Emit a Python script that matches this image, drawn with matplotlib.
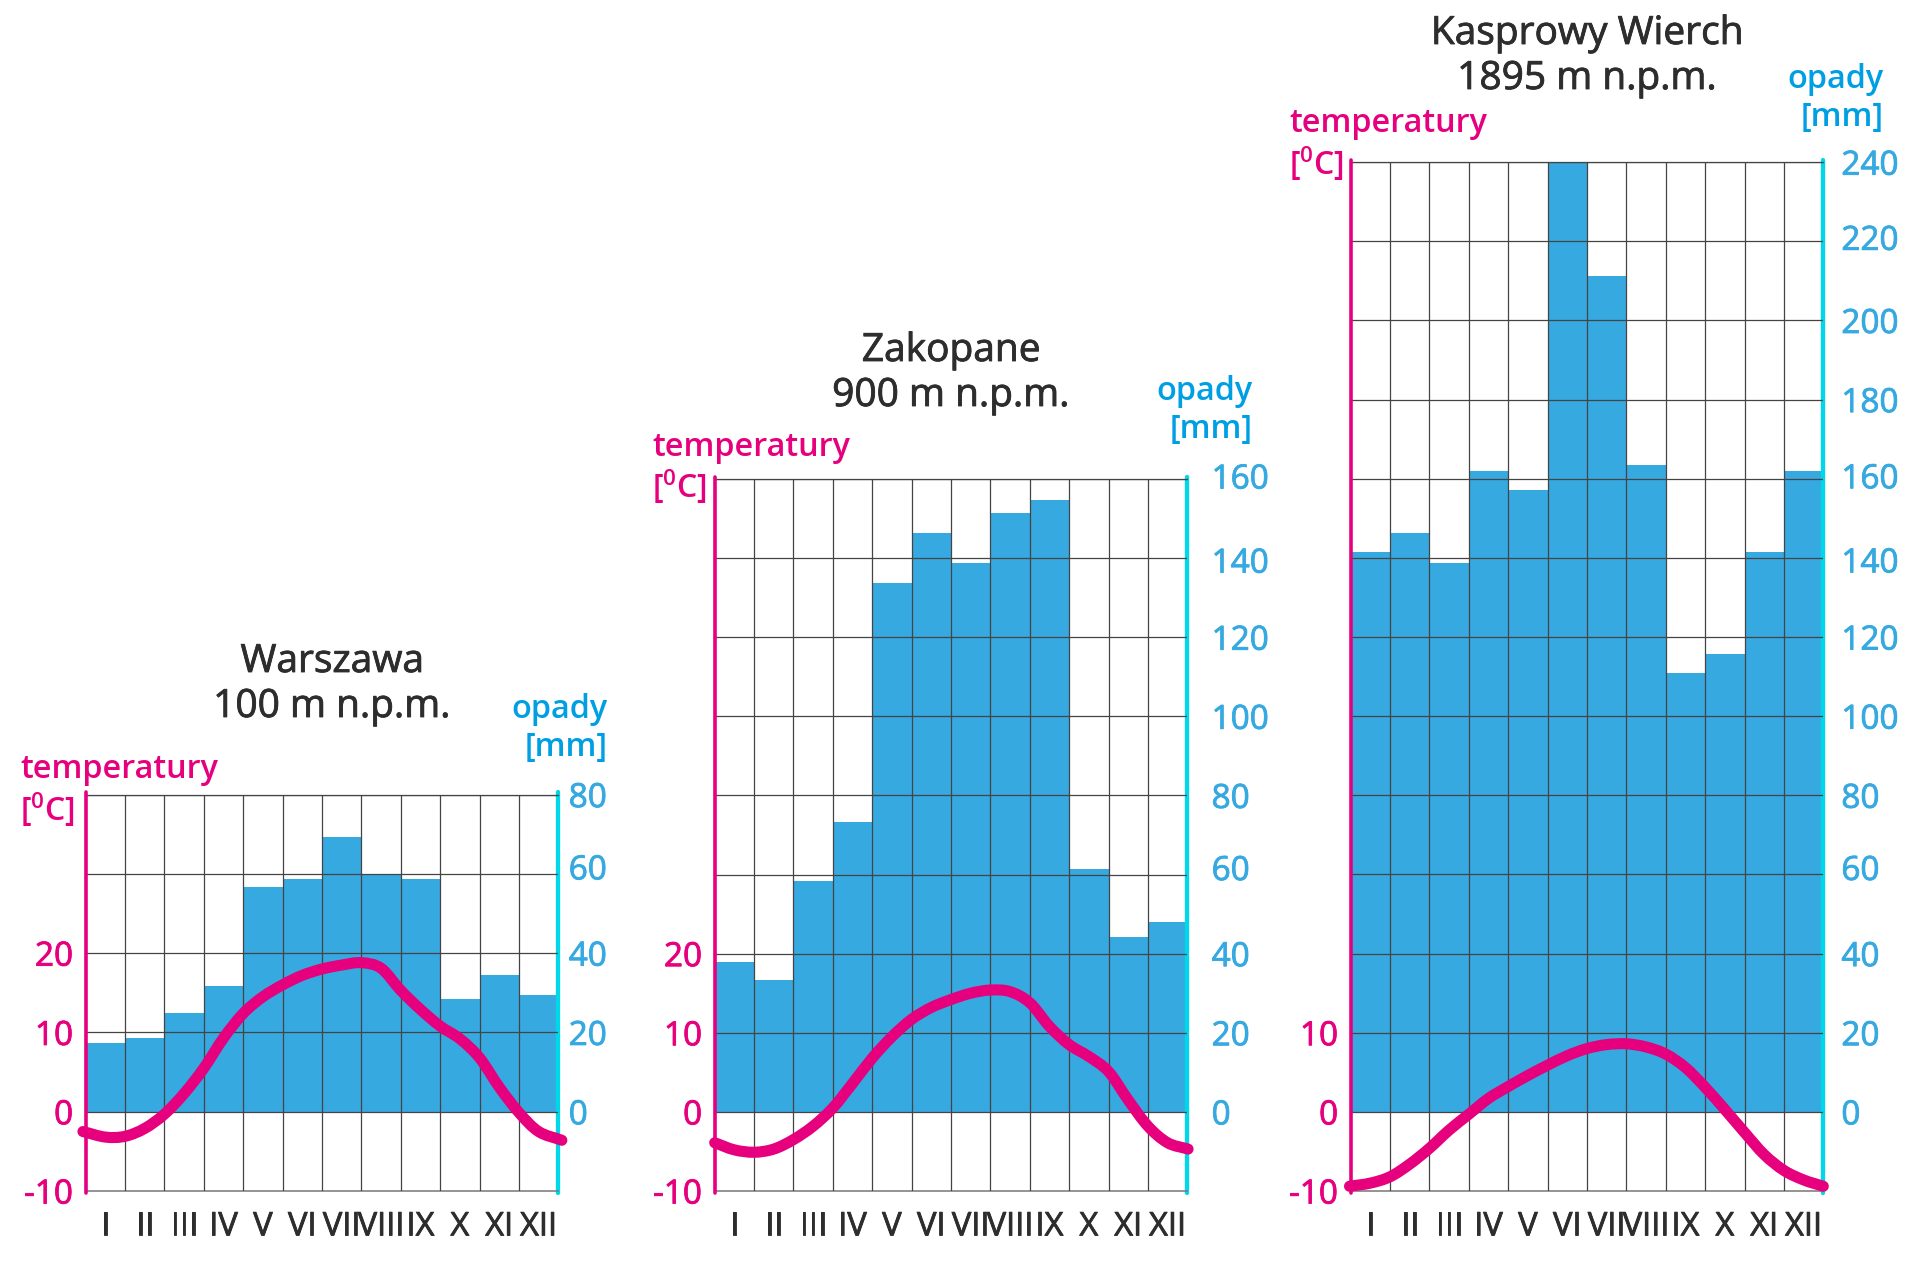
import matplotlib
matplotlib.use('Agg')
import matplotlib.pyplot as plt
import matplotlib.patheffects as pe
import matplotlib.transforms as mtrans
import numpy as np
from matplotlib.path import Path
from matplotlib.patches import PathPatch

plt.rcParams['font.family'] = ['Open Sans', 'DejaVu Sans']
plt.rcParams['mathtext.default'] = 'regular'

months = ['I', 'II', 'III', 'IV', 'V', 'VI', 'VII', 'VIII', 'IX', 'X', 'XI', 'XII']
names = ['Warszawa', 'Zakopane', 'Kasprowy Wierch']
heights = ['100 m n.p.m.', '900 m n.p.m.', '1895 m n.p.m.']

# opady [mm]
rain_waw = [17.4, 18.7, 24.8, 31.7, 56.8, 58.8, 69.3, 60, 58.8, 28.4, 34.6, 29.4]
rain_zak = [38, 33.4, 58.4, 73.2, 133.8, 146.4, 138.7, 151.4, 154.8, 61.5, 44.2, 47.9]
rain_kas = [141.5, 146.4, 138.7, 161.9, 157.2, 240, 211.3, 163.4, 110.9, 115.8, 141.5, 161.9]

# temperatura odczytana co pol miesiaca
temp_x = np.arange(25) / 2
temp_waw = [-2.5, -3.2, -3.1, -2.1, -0.3, 2.3, 5.5, 9.3, 12.4, 14.5, 16, 17.2, 18,
            18.5, 18.8, 18.1, 15.3, 12.9, 10.8, 9.2, 6.8, 3.1, -0.1, -2.5, -3.6]
temp_zak = [-3.9, -4.8, -5.1, -4.7, -3.5, -1.8, 0.5, 3.6, 6.8, 9.5, 11.7, 13.2, 14.2,
            15, 15.4, 15.2, 13.8, 10.8, 8.5, 7, 5.1, 1.5, -1.8, -3.9, -4.7]
temp_kas = [-9.4, -9, -8.2, -6.6, -4.6, -2.3, -0.3, 1.7, 3.2, 4.6, 5.9, 7.1, 8,
            8.5, 8.6, 8.2, 7.3, 5.6, 3.1, 0.3, -2.6, -5.4, -7.4, -8.6, -9.4]

rains = [rain_waw, rain_zak, rain_kas]
temps = [temp_waw, temp_zak, temp_kas]
tops = [80, 160, 240]
temp_ticks = [[-10, 0, 10, 20], [-10, 0, 10, 20], [-10, 0, 10]]

PINK = '#e6007e'
BLUE = '#009fe3'
BAR = '#36a9e1'
CYAN = '#00d7e8'
DARK = '#2d2d2d'
GRID = '#444444'
W, H = 1920, 1280

# piksele: lewa os, gora wykresu, tytul, podpisy
lefts = [85.7, 714.7, 1350.7]
ytops = [794.6, 479.0, 162.2]
ybottom = 1191
width = 472.6
title_x = [332, 951, 1587]
title_y = [(662, 707), (351, 396), (34, 79)]
temp_lab_x = [20, 652, 1289]
temp_lab_y = [(770, 810), (448, 487), (124, 164)]
rain_lab_x = [608, 1253, 1884]
rain_lab_y = [(709, 747), (392, 430), (80, 118)]
right_pad = [7.5, 17.5, 13]
# koncowki krzywej wychodza troche poza osie (w miesiacach)
curve_start = [-0.07, 0, -0.03]
curve_end = [12.09, 12.02, 12]
# w oryginale niektore liczby nie leza dokladnie na linii (piksele w gore)
label_shift = {60: 7, 220: 4, 160: 3, 140: -2}

medium = lambda c: [pe.withStroke(linewidth=0.6, foreground=c)]


def ftext(x, y, s, **kw):
    fig.text(x / W, 1 - y / H, s, va='center', **kw)


def smooth_curve(x, y):
    # gladka krzywa przez odczytane punkty (beziery)
    pts = np.column_stack([x, y])
    d = np.gradient(pts, axis=0) / 3
    verts = [pts[0]]
    codes = [Path.MOVETO]
    for k in range(len(pts) - 1):
        verts += [pts[k] + d[k], pts[k + 1] - d[k + 1], pts[k + 1]]
        codes += [Path.CURVE4] * 3
    return Path(verts, codes)


fig = plt.figure(figsize=(19.2, 12.8), dpi=100)

for i in range(3):
    rect = [lefts[i] / W, 1 - ybottom / H, width / W, (ybottom - ytops[i]) / H]
    ax = fig.add_axes(rect)
    top = tops[i]
    ax.set_xlim(0, 12)
    ax.set_ylim(-20, top)
    ax.bar(np.arange(12) + 0.5, rains[i], width=1, color=BAR, zorder=1)

    ax.set_xticks(np.arange(12) + 0.5)
    ax.set_xticklabels(months, fontsize=23.5, color=DARK, path_effects=medium(DARK))
    ax.set_xticks(np.arange(1, 12), minor=True)
    rain_ticks = np.arange(0, top + 1, 20)
    ax.set_yticks(rain_ticks)
    ax.set_yticklabels(rain_ticks, fontsize=24, color=BAR, path_effects=medium(BAR))
    ax.xaxis.set_tick_params(which='both', length=0, pad=14)
    ax.xaxis.grid(True, which='minor', color=GRID, lw=0.9)
    ax.yaxis.grid(True, which='major', color=GRID, lw=0.9)
    ax.set_axisbelow(False)

    ax.spines['top'].set_color(GRID)
    ax.spines['top'].set_linewidth(0.9)
    ax.spines['bottom'].set_color('#777777')
    ax.spines['bottom'].set_linewidth(1.1)
    ax.spines['left'].set_visible(False)
    ax.spines['right'].set_color(CYAN)
    ax.spines['right'].set_linewidth(3.1)
    ax.spines['right'].set_capstyle('round')
    ax.spines['right'].set_bounds(-20.6, top + 0.6)

    ax_t = ax.twinx()
    ax.yaxis.tick_right()
    ax.yaxis.set_tick_params(length=0, pad=right_pad[i])
    for val, lab in zip(rain_ticks, ax.get_yticklabels()):
        if val in label_shift:
            shift = mtrans.Affine2D().translate(0, label_shift[val])
            lab.set_transform(lab.get_transform() + shift)

    ax_t.set_ylim(-10, top / 2)
    cx = temp_x.copy()
    cx[0] = curve_start[i]
    cx[-1] = curve_end[i]
    ax_t.add_patch(PathPatch(smooth_curve(cx, temps[i]), fill=False, edgecolor=PINK,
                             lw=8, capstyle='round', joinstyle='round', clip_on=False, zorder=5))
    ax_t.yaxis.tick_left()
    ax_t.set_yticks(temp_ticks[i])
    ax_t.set_yticklabels(temp_ticks[i], fontsize=24, color=PINK, path_effects=medium(PINK))
    ax_t.yaxis.set_tick_params(length=0, pad=9)
    for s in ['top', 'bottom', 'right']:
        ax_t.spines[s].set_visible(False)
    ax_t.spines['left'].set_color(PINK)
    ax_t.spines['left'].set_linewidth(2.6)
    ax_t.spines['left'].set_capstyle('round')
    ax_t.spines['left'].set_bounds(-10.3, top / 2 + 0.3)

    ftext(title_x[i], title_y[i][0], names[i], fontsize=28, color=DARK, ha='center', path_effects=medium(DARK))
    ftext(title_x[i], title_y[i][1], heights[i], fontsize=28, color=DARK, ha='center', path_effects=medium(DARK))
    ftext(temp_lab_x[i], temp_lab_y[i][0], 'temperatury', fontsize=23.3, color=PINK, fontweight=600)
    ftext(temp_lab_x[i], temp_lab_y[i][1], '[$^{0}$C]', fontsize=23, color=PINK, fontweight=600)
    ftext(rain_lab_x[i], rain_lab_y[i][0], 'opady', fontsize=23.3, color=BLUE, ha='right', fontweight=600)
    ftext(rain_lab_x[i], rain_lab_y[i][1], '[mm]', fontsize=23.3, color=BLUE, ha='right', fontweight=600)

fig.savefig('out.png', dpi=100)
